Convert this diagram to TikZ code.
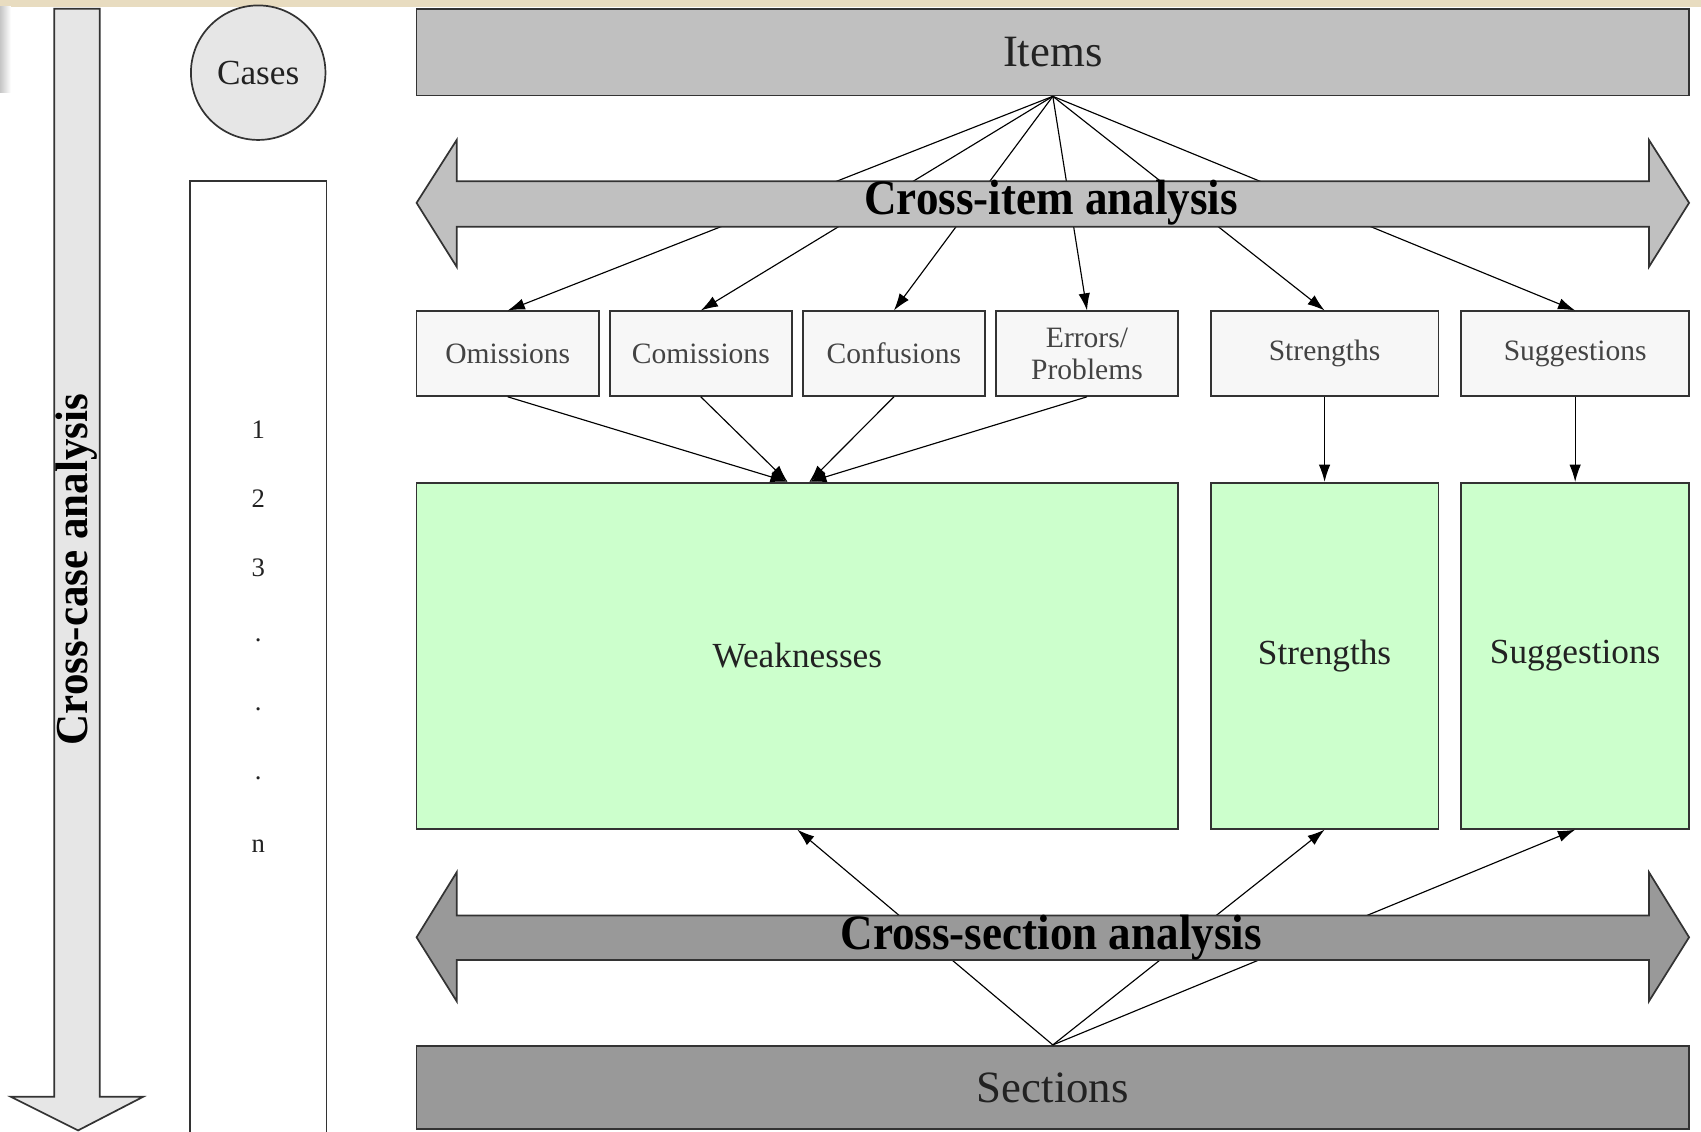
\documentclass[tikz,border=0pt]{standalone}
\usepackage{fontspec}
\setmainfont{Liberation Serif}
\usetikzlibrary{arrows.meta,calc}
\definecolor{grayA}{HTML}{C0C0C0}
\definecolor{grayB}{HTML}{999999}
\definecolor{grayC}{HTML}{E6E6E6}
\definecolor{boxbg}{HTML}{F7F7F7}
\definecolor{greenbg}{HTML}{CCFFCC}
\definecolor{edge}{HTML}{333333}
\definecolor{txt}{HTML}{222222}
\definecolor{beige}{HTML}{E8DCC0}
\begin{document}
\begin{tikzpicture}[x=0.02cm,y=-0.02cm,
  wh/.style 2 args={minimum width={#1*0.02cm}, minimum height={#2*0.02cm}},
  bx/.style={draw=edge, line width=0.9pt, inner sep=0pt, align=center, text=txt},
  smallbox/.style={bx, fill=boxbg, text=txt!85, font=\fontsize{15.5}{17}\selectfont},
  greenbox/.style={bx, fill=greenbg, font=\fontsize{18.5}{21}\selectfont},
  conn/.style={line width=0.6pt, -{Latex[length=9pt,width=6pt]}},
  bigarrow/.style={draw=edge, line width=0.9pt},
  biglabel/.style={inner sep=0pt, text=black, font=\fontsize{26}{28}\selectfont\bfseries},
  num/.style={inner sep=0pt, text=txt, font=\fontsize{14}{15}\selectfont}]
\useasboundingbox (0,0) rectangle (1568,1043);
% background decoration
\fill[beige] (0,0) rectangle (1568,6);
\shade[left color=gray!45, right color=white] (0,6) rectangle (10,85);

% nodes
\node[bx, fill=grayA, wh={1173}{80}, font=\fontsize{23.5}{26}\selectfont] (items) at (970.5,48) {Items};
\node[bx, fill=grayB, wh={1173}{77}, font=\fontsize{23.5}{26}\selectfont] (sections) at (970.5,1002.5) {Sections};
\node[bx, circle, fill=grayC, minimum size={124*0.02cm}, font=\fontsize{18.5}{21}\selectfont] (cases) at (238,67) {Cases};
\node[bx, fill=white, wh={126}{890}] (caselist) at (238,612) {};
\node[num] (n1) at (238,396) {1};
\node[num] (n2) at (238,460) {2};
\node[num] (n3) at (238,523) {3};
\node[num] (d1) at (238,590) {.};
\node[num] (d2) at (238,654) {.};
\node[num] (d3) at (238,717) {.};
\node[num] (nn) at (238,780) {n};

\node[smallbox, wh={168}{78}] (om)  at (468,326) {Omissions};
\node[smallbox, wh={168}{78}] (com) at (646,326) {Comissions};
\node[smallbox, wh={168}{78}] (con) at (824,326) {Confusions};
\node[smallbox, wh={168}{78}] (err) at (1002,326) {Errors/\\Problems};
\node[smallbox, wh={210}{78}] (str) at (1221,326) {Strengths};
\node[smallbox, wh={210}{78}] (sug) at (1452,326) {Suggestions};

\node[greenbox, wh={702}{319}] (wk)  at (735,604.5) {Weaknesses};
\node[greenbox, wh={210}{319}] (stg) at (1221,604.5) {Strengths};
\node[greenbox, wh={210}{319}] (sgg) at (1452,604.5) {Suggestions};

% connectors from Items
\foreach \t in {om,com,con,err,str,sug}
  \draw[conn] (items.south) -- (\t.north);
% small boxes to weaknesses
\coordinate (wkL) at ($(wk.north)+(-9,0)$);
\coordinate (wkR) at ($(wk.north)+(11,0)$);
\draw[conn] (om.south) -- (wkL);
\draw[conn] (com.south) -- (wkL);
\draw[conn] (con.south) -- (wkR);
\draw[conn] (err.south) -- (wkR);
\draw[conn] (str.south) -- (stg.north);
\draw[conn] (sug.south) -- (sgg.north);
% connectors from Sections
\foreach \t in {wk,stg,sgg}
  \draw[conn] (sections.north) -- (\t.south);

% cross-item double arrow
\draw[bigarrow, fill=grayA] (384,187) -- (421,129) -- (421,167) -- (1520,167) -- (1520,129) -- (1557,187)
  -- (1520,246) -- (1520,209) -- (421,209) -- (421,246) -- cycle;
\node[biglabel] (crossitem) at (969,187) {\scalebox{0.91}[1]{Cross-item analysis}};

% cross-section double arrow
\draw[bigarrow, fill=grayB] (384,864) -- (421,804) -- (421,844) -- (1520,844) -- (1520,804) -- (1557,864)
  -- (1520,923) -- (1520,885) -- (421,885) -- (421,923) -- cycle;
\node[biglabel] (crosssection) at (969,864) {\scalebox{0.91}[1]{Cross-section analysis}};

% cross-case arrow
\draw[bigarrow, fill=grayC] (50,8) -- (92,8) -- (92,1011) -- (132,1011) -- (72,1042) -- (10,1011) -- (50,1011) -- cycle;
\node[biglabel, rotate=90, font=\fontsize{24}{26}\selectfont\bfseries] (crosscase) at (71,525) {\scalebox{0.94}[1]{Cross-case analysis}};
\end{tikzpicture}
\end{document}
